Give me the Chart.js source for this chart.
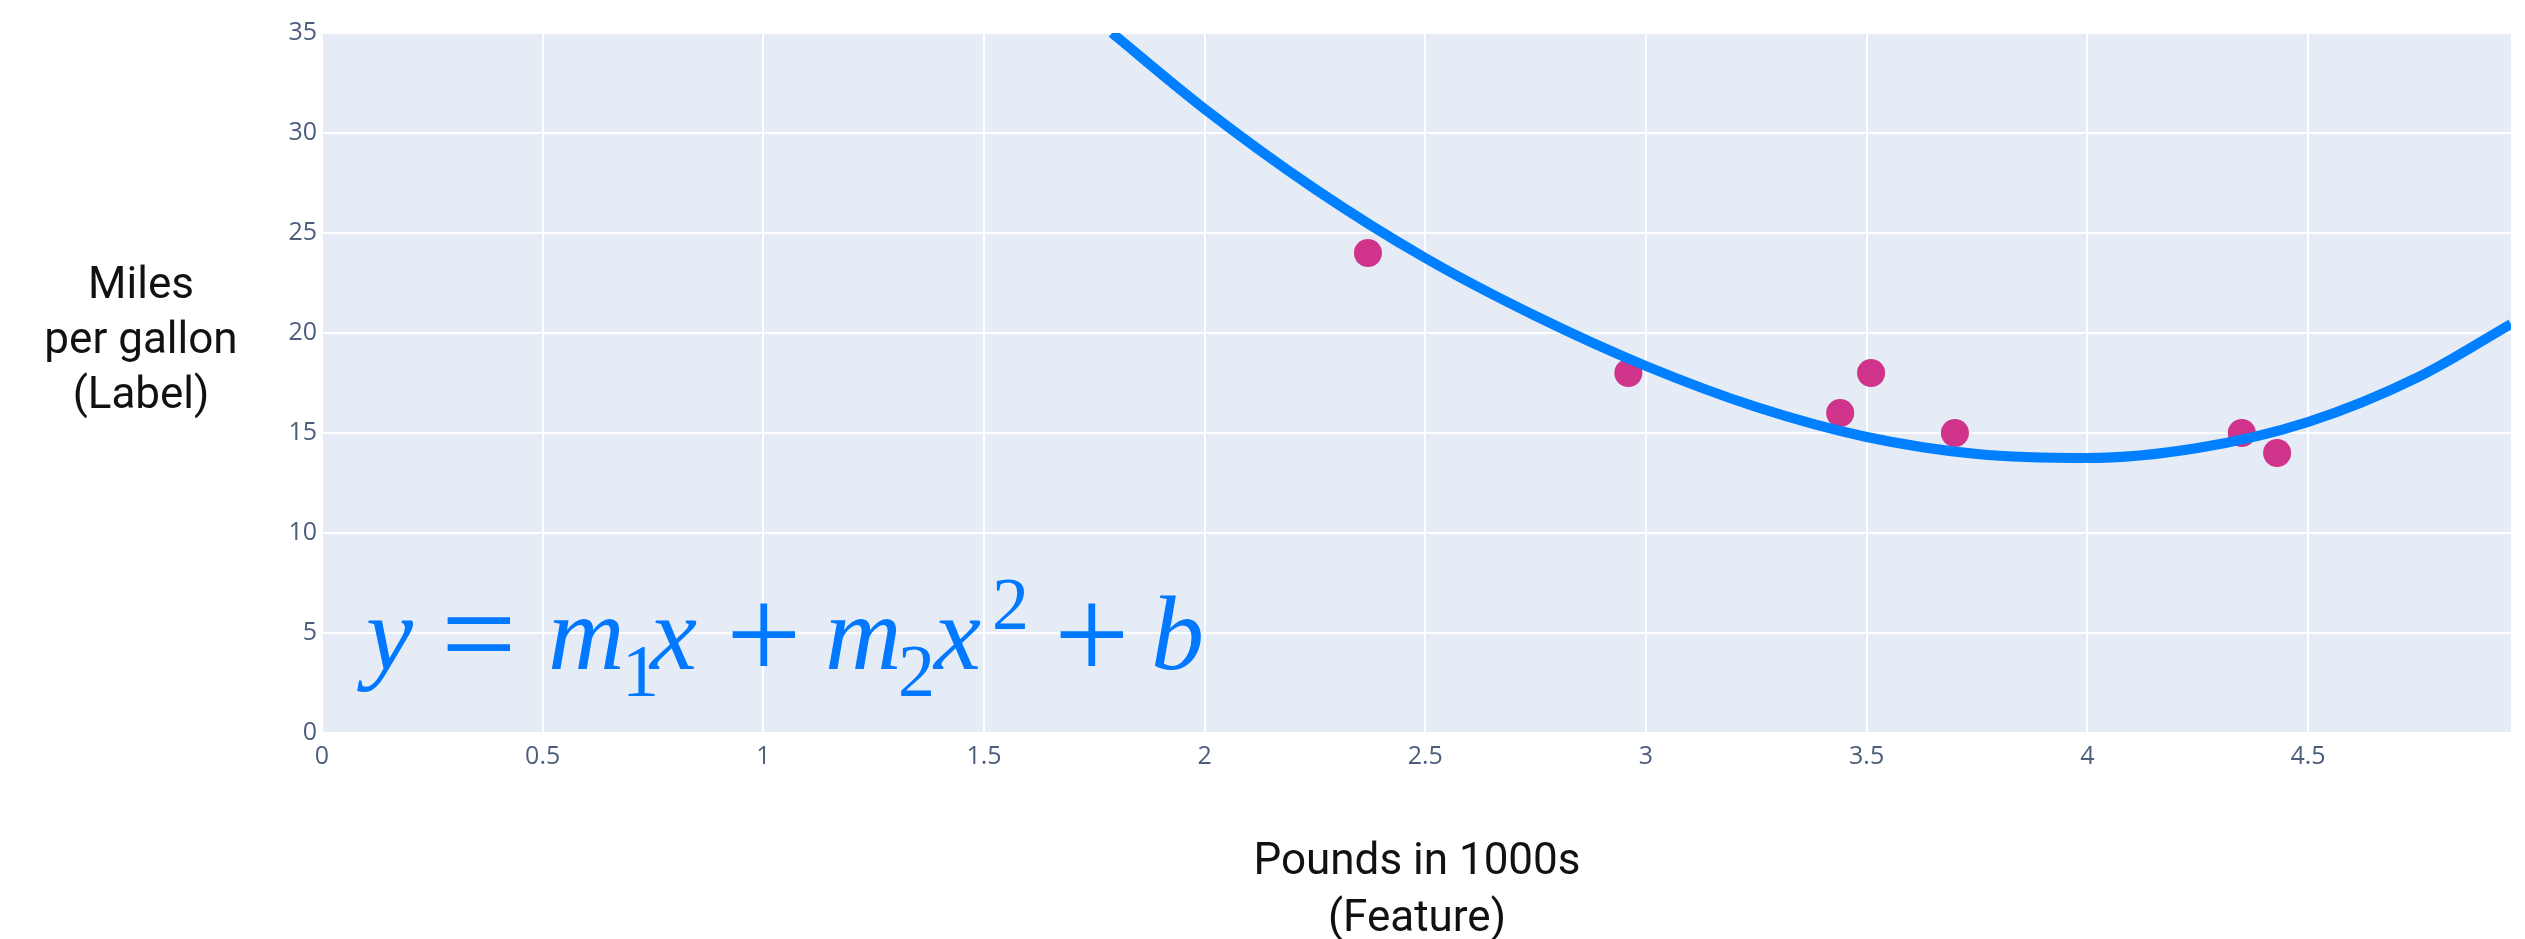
<!DOCTYPE html>
<html>
<head>
<meta charset="utf-8">
<title>Miles per gallon vs weight</title>
<script src="https://cdn.jsdelivr.net/npm/chart.js@4.4.1/dist/chart.umd.min.js"></script>
<style>
  html, body { margin: 0; padding: 0; background: #fff; }
  #wrap { position: relative; width: 2525px; height: 939px; overflow: hidden; }
  #chart { position: absolute; left: 0; top: 0; }

  /* axis titles */
  .title { position: absolute; font-family: Roboto, "Open Sans", sans-serif; font-size: 44px; color: #111; text-align: center; }
  #ytitle { left: 0; top: 256px; width: 282px; line-height: 55px; }
  #xtitle { left: 1017px; top: 831px; width: 800px; line-height: 57px; }

  /* equation, laid over the plot */
  .eq { position: absolute; font-family: "Liberation Serif", "Times New Roman", serif; color: #0078ff; line-height: 1; white-space: nowrap; }
  .eq.big { font-size: 106px; top: 581px; }
  .eq.it  { font-style: italic; }
  .eq.op  { font-size: 134px; top: 567px; }
  .eq.sub { font-size: 74px; top: 634px; }
  .eq.sup { font-size: 74px; top: 567px; }
</style>
</head>
<body>
<div id="wrap">
  <canvas id="chart" width="2525" height="939"></canvas>

  <div id="ytitle" class="title">Miles<br>per gallon<br>(Label)</div>
  <div id="xtitle" class="title">Pounds in 1000s<br>(Feature)</div>

  <span class="eq big it" style="left:366px">y</span>
  <span class="eq op"     style="left:441px">=</span>
  <span class="eq big it" style="left:548px">m</span>
  <span class="eq sub"    style="left:622px">1</span>
  <span class="eq big it" style="left:650px">x</span>
  <span class="eq op"     style="left:726px">+</span>
  <span class="eq big it" style="left:825px">m</span>
  <span class="eq sub"    style="left:898px">2</span>
  <span class="eq big it" style="left:934px">x</span>
  <span class="eq sup"    style="left:992px">2</span>
  <span class="eq op"     style="left:1054px">+</span>
  <span class="eq big it" style="left:1151px">b</span>
</div>

<script>
// ── DATA ──────────────────────────────────────────────────────
// cars: weight (1000s of lb) and mpg
const weights = [2.37, 2.96, 3.44, 3.51, 3.70, 4.35, 4.43];
const mpg     = [24, 18, 16, 18, 15, 15, 14];

// quadratic fit line
const fitX = [1.79, 2.0, 2.25, 2.5, 2.75, 3.0, 3.25, 3.5, 3.75, 4.0, 4.25, 4.5, 4.75, 4.96];
const fitY = [35.0, 31.2, 27.2, 23.75, 20.85, 18.35, 16.3, 14.8, 13.95, 13.75, 14.25, 15.55, 17.8, 20.45];

// axes
const xTicks = [0, 0.5, 1, 1.5, 2, 2.5, 3, 3.5, 4, 4.5];
const yTicks = [0, 5, 10, 15, 20, 25, 30, 35];
const X_MAX = 4.96;
const Y_MAX = 35;

// ── COLOURS ───────────────────────────────────────────────────
const PLOT_BG   = '#e5ecf6';
const TICK_COL  = '#4d5e7c';
const LINE_COL  = '#0080ff';
const POINT_COL = '#d0338a';

// fill the plot area like plotly does
const plotBg = {
  id: 'plotBg',
  beforeDraw(chart) {
    const { ctx, chartArea: a } = chart;
    ctx.save();
    ctx.fillStyle = PLOT_BG;
    ctx.fillRect(a.left, a.top, a.right - a.left, a.bottom - a.top);
    ctx.restore();
  }
};

const tickFont = { family: '"Open Sans", sans-serif', size: 25 };
const plainLabel = v => String(v);

function draw() {
  new Chart(document.getElementById('chart'), {
    type: 'scatter',
    data: {
      datasets: [
        {
          label: 'fit',
          data: fitX.map((x, i) => ({ x, y: fitY[i] })),
          showLine: true,
          borderColor: LINE_COL,
          borderWidth: 10,
          pointRadius: 0,
          cubicInterpolationMode: 'monotone',
          order: 1
        },
        {
          label: 'cars',
          data: weights.map((x, i) => ({ x, y: mpg[i] })),
          backgroundColor: POINT_COL,
          borderWidth: 0,
          pointRadius: 14,
          order: 2
        }
      ]
    },
    options: {
      responsive: false,
      animation: false,
      devicePixelRatio: 1,
      layout: { padding: { left: 0, right: 0, top: 33, bottom: 146 } },
      plugins: { legend: { display: false }, tooltip: { enabled: false } },
      scales: {
        x: {
          type: 'linear',
          min: 0,
          max: X_MAX,
          afterBuildTicks: s => { s.ticks = xTicks.map(v => ({ value: v })); },
          afterFit: s => { s.height = 60; },
          border: { display: false },
          grid: { color: '#ffffff', lineWidth: 2, drawTicks: false },
          ticks: { color: TICK_COL, font: tickFont, padding: 9, maxRotation: 0, autoSkip: false, callback: plainLabel }
        },
        y: {
          min: 0,
          max: Y_MAX,
          afterBuildTicks: s => { s.ticks = yTicks.map(v => ({ value: v })); },
          afterFit: s => { s.width = 322; },
          border: { display: false },
          grid: { color: '#ffffff', lineWidth: 2, drawTicks: false },
          ticks: { color: TICK_COL, font: tickFont, padding: 5, autoSkip: false, callback: plainLabel }
        }
      }
    },
    plugins: [plotBg]
  });
}

document.fonts.load('25px "Open Sans"').then(draw, draw);
</script>
</body>
</html>
